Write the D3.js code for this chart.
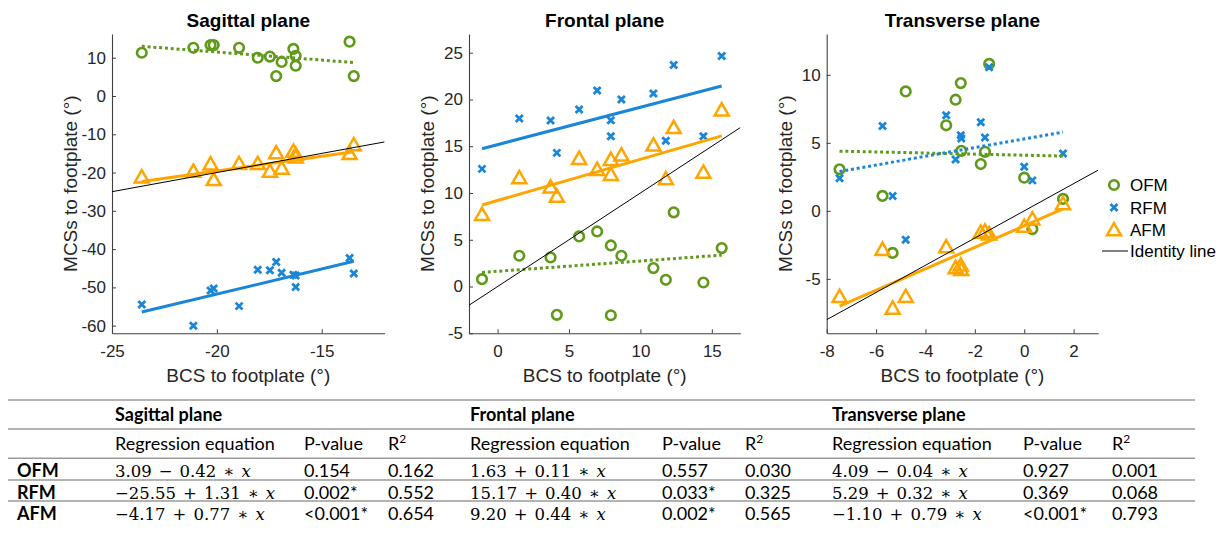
<!DOCTYPE html>
<html><head><meta charset="utf-8">
<script src="https://cdn.jsdelivr.net/npm/d3@7"></script>
<style>body{margin:0;background:#fff;} svg{display:block;}</style>
</head><body><svg id="c" width="1227" height="541"></svg>
<script>
// ---------------- DATA ----------------
const groups = ["OFM", "RFM", "AFM"];
const planeTitles = ["Sagittal plane", "Frontal plane", "Transverse plane"];

// Sagittal plane
const sagBCS = [-23.58, -21.12, -20.30, -20.15, -18.94, -18.05, -17.47, -17.17, -16.91, -16.35, -16.24, -16.24, -13.67, -13.47];
const sagOFM = [11.3, 12.6, 13.3, 13.3, 12.6, 10.0, 10.3, 5.2, 8.9, 12.3, 10.5, 7.9, 14.2, 5.2];
const sagRFM = [-54.5, -60.0, -50.8, -50.3, -54.9, -45.4, -45.5, -43.4, -46.2, -46.7, -46.9, -49.9, -42.3, -46.4];
const sagAFM = [-21.2, -19.7, -17.8, -21.9, -17.7, -17.7, -19.7, -14.9, -18.9, -14.5, -15.3, -16.0, -15.1, -12.8];

// Frontal plane
const froBCS = [-1.09, 1.52, 3.71, 4.15, 5.71, 6.97, 7.93, 7.93, 8.67, 10.91, 11.78, 12.33, 14.41, 15.69];
const froOFM = [0.79, 3.29, 3.11, -3.03, 5.36, 5.89, 4.39, -3.07, 3.29, 1.97, 0.72, 7.93, 0.43, 4.11];
const froRFM = [12.58, 17.97, 17.75, 14.29, 18.93, 20.97, 17.79, 16.07, 20.0, 20.65, 15.58, 23.68, 16.07, 24.64];
const froAFM = [7.68, 11.61, 10.61, 9.64, 13.68, 12.5, 13.57, 11.96, 14.04, 15.11, 11.5, 16.97, 12.2, 18.86];

// Transverse plane
const traBCS = [-7.48, -5.74, -5.33, -4.80, -3.16, -2.78, -2.57, -2.55, -1.76, -1.59, -1.42, 0.00, 0.33, 1.57];
const traOFM = [3.05, 1.10, -3.09, 8.78, 6.29, 8.17, 9.39, 4.41, 3.44, 4.34, 10.8, 2.44, -1.34, 0.88];
const traRFM = [2.39, 6.24, 1.10, -2.12, 7.02, 3.78, 5.56, 5.32, 6.51, 5.39, 10.56, 3.24, 2.24, 4.22];
const traAFM = [-6.31, -2.85, -7.17, -6.31, -2.66, -4.19, -4.00, -4.32, -1.59, -1.51, -1.71, -1.15, -0.61, 0.51];

// Axis limits and ticks
const sagXDomain = [-25, -12], sagYDomain = [-62, 16.2];
const froXDomain = [-2, 17], froYDomain = [-5, 27];
const traXDomain = [-8, 3], traYDomain = [-9, 13];
const sagXTicks = [-25, -20, -15], sagYTicks = [-60, -50, -40, -30, -20, -10, 0, 10];
const froXTicks = [0, 5, 10, 15], froYTicks = [-5, 0, 5, 10, 15, 20, 25];
const traXTicks = [-8, -6, -4, -2, 0, 2], traYTicks = [-5, 0, 5, 10];

// Regression results (OFM, RFM, AFM)
const sagIntercept = [3.09, -25.55, -4.17], sagSlope = [-0.42, 1.31, 0.77];
const sagP = ["0.154", "0.002*", "<0.001*"], sagR2 = ["0.162", "0.552", "0.654"];
const froIntercept = [1.63, 15.17, 9.20], froSlope = [0.11, 0.40, 0.44];
const froP = ["0.557", "0.033*", "0.002*"], froR2 = ["0.030", "0.325", "0.565"];
const traIntercept = [4.09, 5.29, -1.10], traSlope = [-0.04, 0.32, 0.79];
const traP = ["0.927", "0.369", "<0.001*"], traR2 = ["0.001", "0.068", "0.793"];

const xLabel = "BCS to footplate (°)";
const yLabel = "MCSs to footplate (°)";
const identityLabel = "Identity line";
const tableHeaders = ["Regression equation", "P-value", "R"];

// ---------------- DRAWING ----------------
const svg = d3.select("#c");
const color = {OFM: "#5f9a1b", RFM: "#1a86d8", AFM: "#ffa500"};
const chartFont = "'Liberation Sans', Arial, sans-serif";
const layout = [{x0: 112, x1: 384.6}, {x0: 469, x1: 740.4}, {x0: 826.7, x1: 1098.3}];
const plotTop = 34, plotBottom = 333.3;

const panels = [
  {title: planeTitles[0], bcs: sagBCS, vals: [sagOFM, sagRFM, sagAFM], xd: sagXDomain, yd: sagYDomain, xt: sagXTicks, yt: sagYTicks, a: sagIntercept, b: sagSlope, p: sagP, r2: sagR2},
  {title: planeTitles[1], bcs: froBCS, vals: [froOFM, froRFM, froAFM], xd: froXDomain, yd: froYDomain, xt: froXTicks, yt: froYTicks, a: froIntercept, b: froSlope, p: froP, r2: froR2},
  {title: planeTitles[2], bcs: traBCS, vals: [traOFM, traRFM, traAFM], xd: traXDomain, yd: traYDomain, xt: traXTicks, yt: traYTicks, a: traIntercept, b: traSlope, p: traP, r2: traR2}
];

function drawMarker(sel, grp) {
  if (grp === "OFM") {
    sel.append("circle").attr("r", 4.8).attr("fill", "none").attr("stroke", color.OFM).attr("stroke-width", 2.6);
  } else if (grp === "RFM") {
    sel.append("path").attr("d", "M-3.5,-3.5L3.5,3.5M-3.5,3.5L3.5,-3.5").attr("fill", "none").attr("stroke", color.RFM).attr("stroke-width", 2.8);
  } else {
    sel.append("path").attr("d", "M0,-7L7,5.3L-7,5.3Z").attr("fill", "none").attr("stroke", color.AFM).attr("stroke-width", 2.5).attr("stroke-linejoin", "miter");
  }
}

panels.forEach((P, i) => {
  const L = layout[i];
  const x = d3.scaleLinear().domain(P.xd).range([L.x0, L.x1]);
  const y = d3.scaleLinear().domain(P.yd).range([plotBottom, plotTop]);
  const g = svg.append("g");

  const clipId = "clip" + i;
  svg.append("clipPath").attr("id", clipId).append("rect")
    .attr("x", L.x0).attr("y", plotTop).attr("width", L.x1 - L.x0).attr("height", plotBottom - plotTop);

  // axes
  const xa = g.append("g").attr("transform", `translate(0,${plotBottom})`)
    .call(d3.axisBottom(x).tickValues(P.xt).tickSize(-4).tickSizeOuter(0).tickPadding(12).tickFormat(d => String(d)));
  const ya = g.append("g").attr("transform", `translate(${L.x0},0)`)
    .call(d3.axisLeft(y).tickValues(P.yt).tickSize(-4).tickSizeOuter(0).tickPadding(6).tickFormat(d => String(d)));
  [xa, ya].forEach(a => {
    a.select(".domain").attr("stroke", "#404040").attr("stroke-width", 1.1);
    a.selectAll(".tick line").attr("stroke", "#404040").attr("stroke-width", 1);
    a.selectAll(".tick text").attr("fill", "#262626").style("font-family", chartFont).style("font-size", "17px");
  });

  // title and labels
  g.append("text").attr("x", (L.x0 + L.x1) / 2).attr("y", 27).attr("text-anchor", "middle")
    .style("font-family", chartFont).style("font-size", "19px").style("font-weight", "bold").attr("fill", "#000").text(P.title);
  g.append("text").attr("x", (L.x0 + L.x1) / 2).attr("y", 382).attr("text-anchor", "middle")
    .style("font-family", chartFont).style("font-size", "19px").attr("fill", "#262626").text(xLabel);
  g.append("text").attr("transform", `translate(${L.x0 - 35},${(plotTop + plotBottom) / 2}) rotate(-90)`).attr("text-anchor", "middle")
    .style("font-family", chartFont).style("font-size", "19px").attr("fill", "#262626").text(yLabel);

  const plot = g.append("g").attr("clip-path", `url(#${clipId})`);

  // scatter markers
  groups.forEach((grp, k) => {
    const pts = P.bcs.map((bx, j) => [bx, P.vals[k][j]]);
    plot.append("g").selectAll("g").data(pts).join("g")
      .attr("transform", d => `translate(${x(d[0])},${y(d[1])})`)
      .each(function () { drawMarker(d3.select(this), grp); });
  });

  // regression lines
  const xmin = d3.min(P.bcs), xmax = d3.max(P.bcs);
  groups.forEach((grp, k) => {
    const sig = P.p[k].includes("*");
    const f = v => P.a[k] + P.b[k] * v;
    plot.append("line")
      .attr("x1", x(xmin)).attr("y1", y(f(xmin))).attr("x2", x(xmax)).attr("y2", y(f(xmax)))
      .attr("stroke", color[grp]).attr("stroke-width", 3)
      .attr("stroke-dasharray", sig ? null : "3,2.8");
  });

  // identity line
  const lo = Math.max(P.xd[0], P.yd[0]), hi = Math.min(P.xd[1], P.yd[1]);
  plot.append("line").attr("x1", x(lo)).attr("y1", y(lo)).attr("x2", x(hi)).attr("y2", y(hi))
    .attr("stroke", "#000").attr("stroke-width", 1);
});

// legend
const leg = svg.append("g");
const legY = [185, 207.5, 230, 251];
groups.forEach((grp, k) => {
  const m = leg.append("g").attr("transform", `translate(1114,${legY[k]})`);
  drawMarker(m, grp);
  leg.append("text").attr("x", 1130).attr("y", legY[k] + 6).style("font-family", chartFont).style("font-size", "17px").attr("fill", "#000").text(grp);
});
leg.append("line").attr("x1", 1102).attr("x2", 1128).attr("y1", legY[3]).attr("y2", legY[3]).attr("stroke", "#000").attr("stroke-width", 1);
leg.append("text").attr("x", 1130).attr("y", legY[3] + 6).style("font-family", chartFont).style("font-size", "17px").attr("fill", "#000").text(identityLabel);

// ---------------- TABLE ----------------
const tbl = svg.append("g");
const tFont = "Lato, 'Open Sans', sans-serif";
const mFont = "'DejaVu Serif', serif";
const lineYs = [400, 429, 458.3, 480, 501];
lineYs.forEach((ly, k) => tbl.append("line").attr("x1", 8).attr("x2", 1195).attr("y1", ly).attr("y2", ly)
  .attr("stroke", "#9a9a9a").attr("stroke-width", 1.4));

const colX = [[115, 304, 388], [470, 662, 745], [832, 1023, 1112]];
const headerY = 421, subY = 450, rowY = [477, 498.5, 519.5];

function txt(xp, yp, s, bold) {
  return tbl.append("text").attr("x", xp).attr("y", yp).style("font-family", tFont).style("font-size", "18px")
    .style("font-weight", bold ? "bold" : "normal").attr("fill", "#000").text(s);
}
function fmtNum(v) { return (v < 0 ? "\u2212" : "") + Math.abs(v).toFixed(2); }

groups.forEach((grp, k) => txt(17, rowY[k], grp, true));

panels.forEach((P, i) => {
  const [cx, cp, cr] = colX[i];
  txt(cx, headerY, P.title, true);
  txt(cx, subY, tableHeaders[0], false);
  txt(cp, subY, tableHeaders[1], false);
  const r = txt(cr, subY, tableHeaders[2], false);
  r.append("tspan").attr("dy", -7).style("font-size", "12px").text("2");
  groups.forEach((grp, k) => {
    const t = tbl.append("text").attr("x", cx).attr("y", rowY[k]).style("font-family", mFont).style("font-size", "16.5px").attr("fill", "#000");
    t.append("tspan").text(fmtNum(P.a[k]));
    t.append("tspan").attr("dx", 7).text(P.b[k] < 0 ? "\u2212" : "+");
    t.append("tspan").attr("dx", 7).text(Math.abs(P.b[k]).toFixed(2));
    t.append("tspan").attr("dx", 7).text("\u2217");
    t.append("tspan").attr("dx", 7).style("font-style", "italic").text("x");
    txt(cp, rowY[k], P.p[k], false);
    txt(cr, rowY[k], P.r2[k], false);
  });
});
</script>
</body></html>
